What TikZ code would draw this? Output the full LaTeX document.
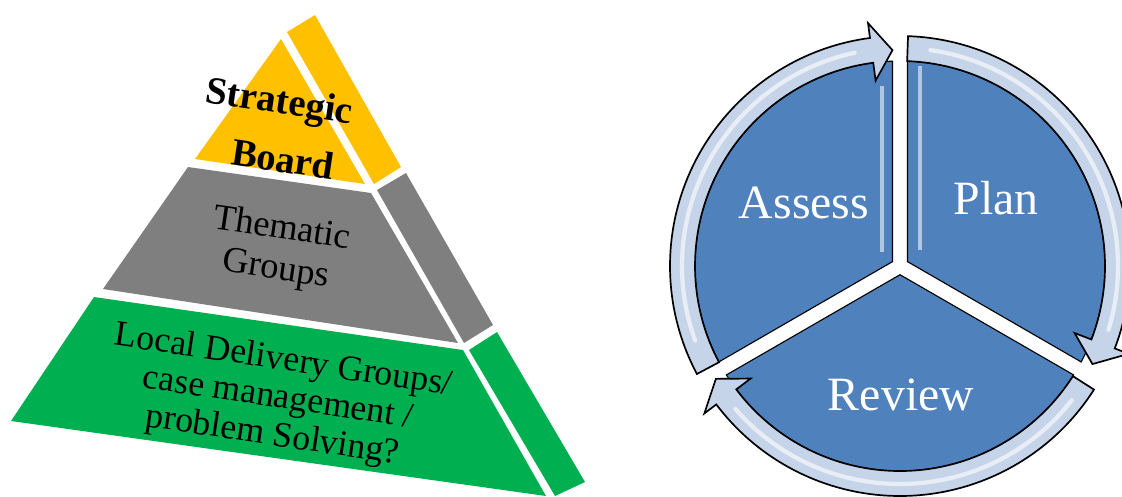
\documentclass[tikz,border=0pt]{standalone}
\usepackage{fontspec}
\setmainfont{Liberation Serif}
\usepackage{tikz}
\usepackage{color}

\definecolor{boardyellow}{HTML}{FFC000}
\definecolor{groupgray}{HTML}{7F7F7F}
\definecolor{deliverygreen}{HTML}{00B050}
\definecolor{cycleblue}{HTML}{4F81BD}
\definecolor{ringblue}{HTML}{C6D4E9}

\begin{document}
\begin{tikzpicture}[x=0.025cm,y=-0.025cm,
  tier/.style={rotate=-8.5,align=center,text=black},
  stage/.style={text=white,anchor=base,font=\fontsize{34}{40}\selectfont},
  sector/.style={fill=cycleblue,draw=black,line width=0.8pt},
  gloss/.style={draw=white!55!cycleblue,line width=2.5pt},
  ringarrow/.style={fill=ringblue,draw=black,line width=1.2pt,line join=miter},
  ringshine/.style={draw=white,line width=3pt,opacity=.6,line cap=round}]
\useasboundingbox (0,0) rectangle (1122,496);
% pyramid
\fill[boardyellow] (281,39) -- (195,159) -- (365,184) -- cycle;
\fill[boardyellow] (287,32) -- (315,15) -- (401,167) -- (374,184) -- cycle;
\fill[groupgray] (188,167) -- (371,193) -- (458,343) -- (103,289) -- cycle;
\fill[groupgray] (377,190) -- (406,173) -- (493,325) -- (464,343) -- cycle;
\fill[deliverygreen] (94,297) -- (463,350) -- (546,496) -- (11,421) -- cycle;
\fill[deliverygreen] (469,350) -- (497,332) -- (585,482) -- (555,496) -- cycle;
\node[tier,font=\bfseries\fontsize{27.5}{30}\selectfont] (strategic) at (279,104) {Strategic};
\node[tier,font=\bfseries\fontsize{27.5}{30}\selectfont] (board) at (283,159) {Board};
\node[tier,font=\fontsize{26}{29}\selectfont] (thematic) at (279,250) {Thematic\\Groups};
\node[tier,font=\fontsize{25.5}{27}\selectfont] (local) at (278,399) {Local Delivery Groups/\\case management /\\problem Solving?};
% cycle
\begin{scope}[shift={(900,266)},yscale=-1]
\draw[sector] (30:8.7) -- (-27.9:205) arc[start angle=-27.9,end angle=87.9,radius=205] -- cycle;
\draw[sector] (150:8.7) -- (92.1:205) arc[start angle=92.1,end angle=207.9,radius=205] -- cycle;
\draw[sector] (270:8.7) -- (212.1:205) arc[start angle=212.1,end angle=327.9,radius=205] -- cycle;
\draw[gloss] (-18,180) -- (-18,14);
\draw[gloss] (20,200) -- (20,16);
\draw[ringarrow] (208:230) arc[start angle=208,end angle=97.5,radius=230] -- (97.5:245) -- (92:216) -- (97.5:187) -- (97.5:205) arc[start angle=97.5,end angle=208,radius=205] -- cycle;
\draw[ringarrow] (88:230) arc[start angle=88,end angle=-21,radius=230] -- (-21:245) -- (-27:216) -- (-21:187) -- (-21:205) arc[start angle=-21,end angle=88,radius=205] -- cycle;
\draw[ringarrow] (-32.5:230) arc[start angle=-32.5,end angle=-143,radius=230] -- (-143:245) -- (-148.5:216) -- (-143:187) -- (-143:205) arc[start angle=-143,end angle=-32.5,radius=205] -- cycle;
\draw[ringshine] (200:218) arc[start angle=200,end angle=102,radius=218];
\draw[ringshine] (82:218) arc[start angle=82,end angle=-17,radius=218];
\draw[ringshine] (-38:218) arc[start angle=-38,end angle=-139,radius=218];
\end{scope}
\node[stage] (assess) at (804,218) {Assess};
\node[stage] (plan) at (996,214) {Plan};
\node[stage] (review) at (901,410) {Review};
\end{tikzpicture}
\end{document}
